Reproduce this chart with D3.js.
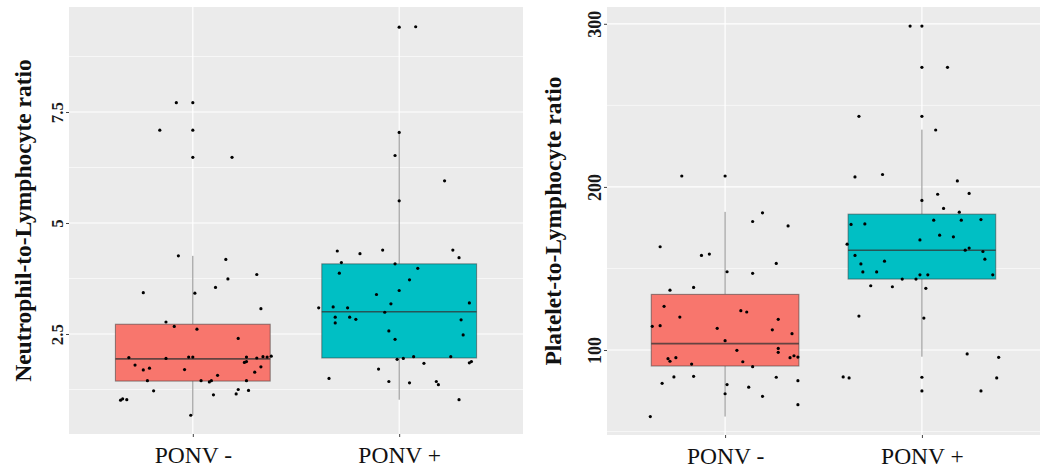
<!DOCTYPE html>
<html>
<head>
<meta charset="utf-8">
<script src="https://cdn.jsdelivr.net/npm/d3@7"></script>
<style>
  body { margin: 0; background: #fff; }
</style>
</head>
<body>
<div class="canvas"></div>
<script>
// categories
const groups = ['PONV -', 'PONV +'];

// NLR points: values and horizontal jitter (in category steps)
const nlrNegValues = [7.71, 7.71, 7.09, 7.09, 6.48, 6.48, 4.26, 4.18, 3.84, 3.74, 3.43, 3.42, 3.55, 3.07, 2.77, 2.67, 2.61, 2.40, 1.97, 1.95, 1.98, 1.98, 1.98, 1.96, 1.99, 1.98, 2.00, 1.86, 1.88, 1.80, 1.69, 1.73, 1.70, 1.76, 1.64, 1.57, 1.45, 1.45, 1.42, 1.45, 1.45, 1.22, 1.13, 1.15, 1.25, 1.23, 1.01, 1.04, 1.02, 0.67];
const nlrNegJitter = [-0.08, 0, -0.16, 0, 0, 0.19, -0.07, 0.16, 0.31, 0.17, -0.24, 0.01, 0.11, 0.33, -0.13, -0.09, 0.02, 0.22, -0.31, -0.13, -0.02, 0, 0.26, 0.31, 0.34, 0.36, 0.38, 0.25, 0.26, -0.28, -0.24, -0.21, -0.04, 0.33, 0.30, 0.12, -0.22, 0.04, 0.08, 0.09, 0.26, -0.19, 0.10, 0.21, 0.22, 0.27, -0.35, -0.34, -0.32, -0.01];
const nlrPosValues = [9.41, 9.42, 7.04, 6.52, 5.95, 5.50, 4.37, 4.31, 4.39, 4.39, 4.22, 4.11, 4.08, 3.98, 3.87, 3.72, 3.48, 3.39, 3.18, 3.20, 3.09, 3.11, 3.09, 2.99, 2.88, 2.88, 2.83, 2.75, 2.82, 2.57, 2.48, 2.38, 1.93, 1.95, 1.99, 1.99, 1.84, 1.85, 1.88, 1.71, 1.50, 1.43, 1.40, 1.43, 1.36, 1.02];
const nlrPosJitter = [0, 0.08, 0, -0.02, 0.22, 0, -0.30, -0.19, -0.08, 0.26, 0.29, -0.28, -0.02, 0.09, -0.29, 0.05, 0, -0.11, -0.04, 0.34, -0.39, -0.32, -0.25, -0.07, -0.31, -0.24, -0.21, -0.31, 0.30, -0.05, 0.31, -0.02, -0.01, 0.02, 0.07, 0.25, 0.12, 0.34, 0.35, -0.10, -0.34, -0.05, 0.05, 0.18, 0.19, 0.29];

// PLR points
const plrNegValues = [206.7, 206.7, 184.1, 178.8, 176.1, 163.3, 158.0, 158.8, 153.1, 148.0, 147.0, 136.7, 138.4, 126.8, 120.2, 124.1, 123.3, 118.8, 114.5, 114.9, 113.3, 112.4, 110.0, 105.7, 99.8, 101.0, 98.6, 94.7, 93.1, 95.3, 91.4, 92.8, 89.8, 95.3, 96.5, 95.7, 79.6, 83.5, 83.9, 78.8, 73.2, 77.2, 83.3, 81.2, 71.6, 66.5, 59.2];
const plrNegJitter = [-0.22, 0, 0.19, 0.14, 0.32, -0.33, -0.12, -0.08, 0.26, 0.01, 0.14, -0.28, -0.16, -0.31, -0.23, 0.08, 0.11, 0.27, -0.37, -0.33, -0.04, 0.24, 0.34, 0, 0.06, 0.27, 0.27, -0.29, -0.28, -0.25, -0.17, 0.09, 0.14, 0.33, 0.35, 0.37, -0.32, -0.26, -0.16, 0.01, 0, 0.12, 0.26, 0.37, 0.19, 0.37, -0.38];
const plrPosValues = [298.6, 298.6, 273.3, 273.3, 243.3, 243.3, 234.9, 206.1, 207.6, 203.7, 195.5, 196.0, 191.7, 186.8, 184.5, 177.0, 177.3, 179.6, 179.6, 180.0, 170.4, 169.4, 167.5, 164.9, 161.2, 162.5, 160.4, 158.0, 154.5, 152.8, 155.7, 147.9, 147.9, 146.1, 146.1, 146.1, 143.5, 143.5, 139.4, 138.8, 137.8, 120.8, 119.6, 97.6, 95.5, 83.5, 82.9, 83.3, 82.9, 74.9, 74.9];
const plrPosJitter = [-0.06, 0, 0, 0.13, -0.32, 0, 0.07, -0.34, -0.20, 0.18, 0.08, 0.24, 0, 0.11, 0.19, -0.36, -0.29, 0.06, 0.20, 0.30, 0.09, 0.16, -0.01, -0.38, 0.22, 0.24, 0.31, -0.34, -0.19, -0.31, 0.32, -0.30, -0.23, -0.01, 0.03, 0.36, -0.10, -0.03, -0.26, -0.15, 0.02, -0.32, 0.01, 0.23, 0.39, -0.40, -0.37, 0, 0.38, 0, 0.30];

// box stats per group: [whisker low, q1, median, q3, whisker high]
const nlrBoxNeg = [0.67, 1.44, 1.94, 2.72, 4.26];
const nlrBoxPos = [1.02, 1.96, 3.0, 4.08, 7.04];
const plrBoxNeg = [59.2, 90.2, 103.9, 134.1, 184.7];
const plrBoxPos = [95.9, 143.5, 161.2, 183.3, 235.1];

// tick labels
const nlrTicks = [2.5, 5, 7.5];
const nlrMinor = [1.25, 3.75, 6.25, 8.75];
const plrTicks = [100, 200, 300];
const plrMinor = [50, 150, 250];

const fills = ['#F8766D', '#00BFC4'];

const svg = d3.select('.canvas')
  .append('svg')
    .attr('width', 1046)
    .attr('height', 468);

function drawPanel(opts) {
  const width = opts.right - opts.left;
  const height = opts.bottom - opts.top;

  const graph = svg.append('g')
    .attr('transform', `translate(${opts.left}, ${opts.top})`);

  const x = d3.scalePoint()
    .domain(groups)
    .range([0, width])
    .padding(0.6);

  const y = d3.scaleLinear()
    .domain(opts.domain)
    .range([height, 0]);

  const boxW = x.step() * 0.75;

  // panel background + grid
  graph.append('rect')
    .attr('width', width)
    .attr('height', height)
    .attr('fill', '#EBEBEB');

  graph.selectAll('line.minor')
    .data(opts.minor)
    .enter().append('line')
      .attr('x1', 0).attr('x2', width)
      .attr('y1', d => y(d)).attr('y2', d => y(d))
      .attr('stroke', '#fff')
      .attr('stroke-width', 0.6);

  graph.selectAll('line.major')
    .data(opts.ticks)
    .enter().append('line')
      .attr('x1', 0).attr('x2', width)
      .attr('y1', d => y(d)).attr('y2', d => y(d))
      .attr('stroke', '#fff')
      .attr('stroke-width', 1.2);

  graph.selectAll('line.vmajor')
    .data(groups)
    .enter().append('line')
      .attr('x1', d => x(d)).attr('x2', d => x(d))
      .attr('y1', 0).attr('y2', height)
      .attr('stroke', '#fff')
      .attr('stroke-width', 1.2);

  // boxes
  opts.boxes.forEach((b, i) => {
    const cx = x(groups[i]);
    const g = graph.append('g');
    g.append('line')
      .attr('x1', cx).attr('x2', cx)
      .attr('y1', y(b[0])).attr('y2', y(b[1]))
      .attr('stroke', '#333').attr('stroke-opacity', 0.55);
    g.append('line')
      .attr('x1', cx).attr('x2', cx)
      .attr('y1', y(b[3])).attr('y2', y(b[4]))
      .attr('stroke', '#333').attr('stroke-opacity', 0.55);
    g.append('rect')
      .attr('x', cx - boxW / 2)
      .attr('y', y(b[3]))
      .attr('width', boxW)
      .attr('height', y(b[1]) - y(b[3]))
      .attr('fill', fills[i])
      .attr('stroke', '#333')
      .attr('stroke-opacity', 0.5)
      .attr('stroke-width', 1.1);
    g.append('line')
      .attr('x1', cx - boxW / 2).attr('x2', cx + boxW / 2)
      .attr('y1', y(b[2])).attr('y2', y(b[2]))
      .attr('stroke', '#333').attr('stroke-opacity', 0.75)
      .attr('stroke-width', 1.6);
  });

  // jittered points
  opts.points.forEach((p, i) => {
    const pts = p.values.map((v, k) => ({ v, j: p.jitter[k] }));
    graph.append('g').selectAll('circle')
      .data(pts)
      .enter().append('circle')
        .attr('cx', d => x(groups[i]) + d.j * x.step())
        .attr('cy', d => y(d.v))
        .attr('r', 1.6)
        .attr('fill', '#000');
  });

  // axes
  const yAxis = d3.axisLeft(y)
    .tickValues(opts.ticks)
    .tickSize(3)
    .tickFormat(opts.format);
  const xAxis = d3.axisBottom(x)
    .tickSize(3);

  const yAxisGroup = graph.append('g').call(yAxis);
  const xAxisGroup = graph.append('g')
    .attr('transform', `translate(0, ${height})`)
    .call(xAxis);

  [yAxisGroup, xAxisGroup].forEach(a => {
    a.select('.domain').remove();
    a.selectAll('line').attr('stroke', '#444');
  });

  yAxisGroup.selectAll('text')
    .attr('x', null)
    .attr('dy', null)
    .attr('transform', 'translate(-6, 0) rotate(-90)')
    .attr('text-anchor', 'middle')
    .attr('font-family', '"Liberation Serif", "Times New Roman", serif')
    .attr('font-weight', 'bold')
    .attr('font-size', opts.tickSize)
    .attr('fill', '#1a1a1a');

  xAxisGroup.selectAll('text')
    .attr('y', 29)
    .attr('dy', null)
    .attr('font-family', '"Liberation Serif", "Times New Roman", serif')
    .attr('font-size', 23.5)
    .attr('fill', '#111');

  // y title
  svg.append('text')
    .attr('transform', `translate(${opts.titleX}, ${opts.top + height / 2}) rotate(-90)`)
    .attr('text-anchor', 'middle')
    .attr('font-family', '"Liberation Serif", "Times New Roman", serif')
    .attr('font-weight', 'bold')
    .attr('font-size', 23.5)
    .attr('fill', '#111')
    .text(opts.title);
}

drawPanel({
  left: 69, right: 523, top: 7, bottom: 434,
  domain: [0.248, 9.865],
  ticks: nlrTicks, minor: nlrMinor,
  format: d3.format('~g'),
  tickSize: 17,
  boxes: [nlrBoxNeg, nlrBoxPos],
  points: [
    { values: nlrNegValues, jitter: nlrNegJitter },
    { values: nlrPosValues, jitter: nlrPosJitter }
  ],
  titleX: 31,
  title: 'Neutrophil-to-Lymphocyte ratio'
});

drawPanel({
  left: 607, right: 1040, top: 7, bottom: 435,
  domain: [47.9, 310.3],
  ticks: plrTicks, minor: plrMinor,
  format: d3.format('d'),
  tickSize: 18,
  boxes: [plrBoxNeg, plrBoxPos],
  points: [
    { values: plrNegValues, jitter: plrNegJitter },
    { values: plrPosValues, jitter: plrPosJitter }
  ],
  titleX: 561,
  title: 'Platelet-to-Lymphocyte ratio'
});
</script>
</body>
</html>
